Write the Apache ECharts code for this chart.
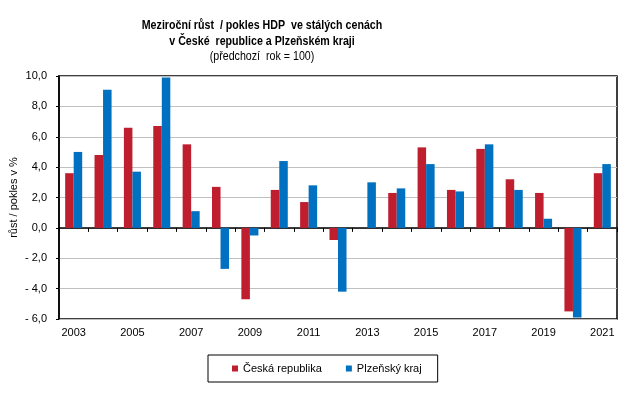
<!DOCTYPE html>
<html>
<head>
<meta charset="utf-8">
<script src="https://cdn.jsdelivr.net/npm/echarts@6/dist/echarts.min.js"></script>
<style>
html,body{margin:0;padding:0;background:#fff;}
#c{width:643px;height:393px;}
</style>
</head>
<body>
<div id="c"></div>
<script>
const years = ['2003','2004','2005','2006','2007','2008','2009','2010','2011','2012','2013','2014','2015','2016','2017','2018','2019','2020','2021'];
const ceskaRepublika = [3.6, 4.8, 6.6, 6.7, 5.5, 2.7, -4.7, 2.5, 1.7, -0.8, 0.0, 2.3, 5.3, 2.5, 5.2, 3.2, 2.3, -5.5, 3.6];
const plzenskyKraj = [5.0, 9.1, 3.7, 9.9, 1.1, -2.7, -0.5, 4.4, 2.8, -4.2, 3.0, 2.6, 4.2, 2.4, 5.5, 2.5, 0.6, -5.9, 4.2];
const seriesNames = ['Česká republika', 'Plzeňský kraj'];
const titleLines = ['Meziroční růst  / pokles HDP  ve stálých cenách', 'v České  republice a Plzeňském kraji'];
const subtitle = '(předchozí  rok = 100)';
const yAxisName = 'růst / pokles v %';

const FONT = 'Liberation Sans, Arial, sans-serif';
const chart = echarts.init(document.getElementById('c'), null, {renderer: 'canvas'});
const titleText = (txt, y, bold) => ({
  type: 'text', x: 262, y: y, scaleX: 0.82,
  style: {text: txt, fontFamily: FONT, fontSize: 13, fontWeight: bold ? 'bold' : 'normal',
          fill: '#000', align: 'center', verticalAlign: 'middle'}
});
chart.setOption({
  animation: false,
  backgroundColor: '#fff',
  graphic: [
    titleText(titleLines[0], 25.5, true),
    titleText(titleLines[1], 41.5, true),
    titleText(subtitle, 56.5, false)
  ],
  legend: {
    data: seriesNames,
    left: 208, top: 355, width: 229, height: 30,
    padding: [8, 16, 8, 24],
    itemGap: 24,
    borderColor: '#000', borderWidth: 1,
    itemWidth: 6, itemHeight: 6, icon: 'rect',
    textStyle: {fontFamily: FONT, fontSize: 11, color: '#000'}
  },
  grid: {left: 59, right: 26, top: 76, bottom: 74, containLabel: false, outerBoundsMode: 'none',
         show: true, borderColor: '#000', borderWidth: 1.5, backgroundColor: 'transparent'},
  xAxis: [{
    type: 'category', data: years,
    axisLine: {onZero: true, lineStyle: {color: '#000', width: 1.5}},
    axisTick: {show: true, interval: 0, length: 4, lineStyle: {color: '#000'}},
    axisLabel: {show: false}
  }, {
    type: 'category', data: years, position: 'bottom',
    axisLine: {show: false, onZero: false}, axisTick: {show: false},
    axisLabel: {interval: 1, margin: 8, fontFamily: FONT, fontSize: 11, color: '#000'}
  }],
  yAxis: {
    type: 'value', min: -6, max: 10, interval: 2,
    name: yAxisName, nameLocation: 'middle', nameGap: 40, nameRotate: 90, nameMoveOverlap: false,
    nameTextStyle: {fontFamily: FONT, fontSize: 11, color: '#000'},
    axisLine: {show: true, lineStyle: {color: '#000', width: 1.5}},
    axisTick: {show: true, length: 3, lineStyle: {color: '#000'}},
    axisLabel: {
      margin: 12, fontFamily: FONT, fontSize: 11, color: '#000',
      formatter: v => (v < 0 ? '- ' + Math.abs(v).toFixed(1) : v.toFixed(1)).replace('.', ',')
    },
    splitLine: {lineStyle: {color: '#c0c0c0', width: 1}}
  },
  series: [{
    name: seriesNames[0], type: 'bar', data: ceskaRepublika, xAxisIndex: 0,
    itemStyle: {color: '#be1e2d'}, barGap: '0%', barCategoryGap: '42%'
  }, {
    name: seriesNames[1], type: 'bar', data: plzenskyKraj, xAxisIndex: 0,
    itemStyle: {color: '#0070c0'}, barGap: '0%', barCategoryGap: '42%'
  }]
});
</script>
</body>
</html>
